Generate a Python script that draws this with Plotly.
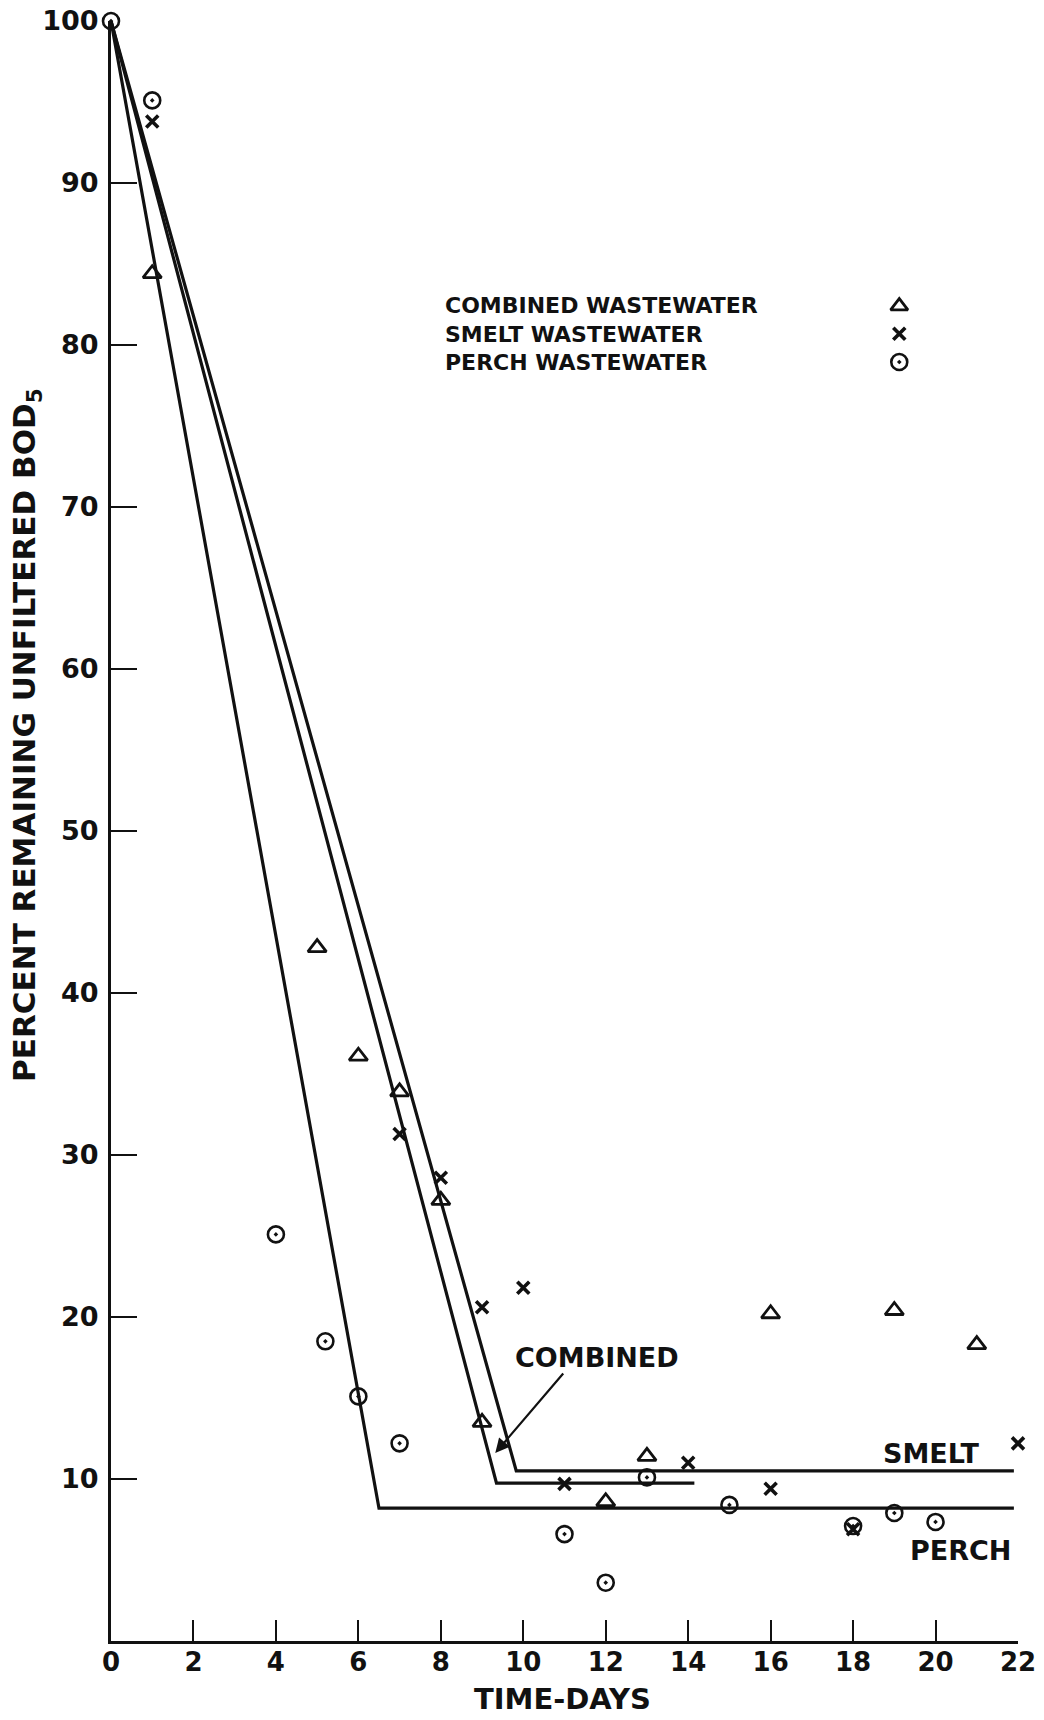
import plotly.graph_objects as go

# ---- data ----
combined_days = [1, 5, 6, 7, 8, 9, 12, 13, 16, 19, 21]
combined_pct = [84.4, 42.8, 36.1, 33.9, 27.2, 13.5, 8.6, 11.4, 20.2, 20.4, 18.3]

smelt_days = [1, 7, 8, 9, 10, 11, 14, 16, 18, 22]
smelt_pct = [93.8, 31.3, 28.6, 20.6, 21.8, 9.7, 11.0, 9.4, 6.9, 12.2]

perch_days = [0, 1, 4, 5.2, 6, 7, 11, 12, 13, 15, 18, 19, 20]
perch_pct = [100, 95.1, 25.1, 18.5, 15.1, 12.2, 6.6, 3.6, 10.1, 8.4, 7.1, 7.9, 7.35]

combined_fit_days = [0, 9.35, 14.15]
combined_fit_pct = [100, 9.75, 9.75]
smelt_fit_days = [0, 9.83, 21.9]
smelt_fit_pct = [100, 10.5, 10.5]
perch_fit_days = [0, 6.5, 21.9]
perch_fit_pct = [100, 8.2, 8.2]

x_ticks = list(range(0, 23, 2))
y_ticks = list(range(10, 101, 10))

legend_labels = ["COMBINED WASTEWATER", "SMELT WASTEWATER", "PERCH WASTEWATER"]
legend_symbols = ["triangle-up-open", "x-thin-open", "circle-open-dot"]
legend_text_x = 8.05
legend_sym_x = 19.12
legend_y = [82.4, 80.7, 78.95]

FONT = "DejaVu Sans"
BLACK = "#111111"

# the page's body margin is removed (post_script), so figure == window
W, H = 1044, 1720
# plot area in window pixels: x 111..1018, y 21..1641
ml, mt = 111, 21
mr = W - 1018
mb = H - 1641
pw, ph = W - ml - mr, H - mt - mb


def px_to_paper(xp, yp):
    """window pixel -> paper coordinates"""
    return (xp - ml) / pw, (H - mb - yp) / ph


fig = go.Figure()

# fitted lines
for xs, ys in [(combined_fit_days, combined_fit_pct),
               (smelt_fit_days, smelt_fit_pct),
               (perch_fit_days, perch_fit_pct)]:
    fig.add_trace(go.Scatter(x=xs, y=ys, mode="lines",
                             line=dict(color=BLACK, width=3.2),
                             showlegend=False, cliponaxis=False))

# data markers
fig.add_trace(go.Scatter(x=combined_days, y=combined_pct, mode="markers",
                         marker=dict(symbol="triangle-up-open", size=16,
                                     color=BLACK, line=dict(width=2.8, color=BLACK)),
                         showlegend=False, cliponaxis=False))
fig.add_trace(go.Scatter(x=smelt_days, y=smelt_pct, mode="markers",
                         marker=dict(symbol="x-thin-open", size=12,
                                     color=BLACK, line=dict(width=3.6, color=BLACK)),
                         showlegend=False, cliponaxis=False))
fig.add_trace(go.Scatter(x=perch_days, y=perch_pct, mode="markers",
                         marker=dict(symbol="circle-open-dot", size=16,
                                     color=BLACK, line=dict(width=2.6, color=BLACK)),
                         showlegend=False, cliponaxis=False))

# legend key symbols
sizes = [15, 12, 16]
widths = [2.8, 3.6, 2.6]
for sym, yy, s, w in zip(legend_symbols, legend_y, sizes, widths):
    fig.add_trace(go.Scatter(x=[legend_sym_x], y=[yy], mode="markers",
                             marker=dict(symbol=sym, size=s, color=BLACK,
                                         line=dict(width=w, color=BLACK)),
                             showlegend=False, cliponaxis=False))

annotations = [
    dict(x=legend_text_x, y=legend_y[1], xref="x", yref="y",
         text="<br>".join(legend_labels), align="left",
         showarrow=False, xanchor="left", yanchor="middle",
         font=dict(family=FONT, size=22, color=BLACK, weight="bold")),
]

ytx, yty = px_to_paper(26, 735)
xtx, xty = px_to_paper(562, 1699)
annotations += [
    dict(x=11.8, y=17.5, xref="x", yref="y", text="COMBINED", showarrow=False,
         font=dict(family=FONT, size=27, color=BLACK, weight="bold")),
    dict(x=9.32, y=11.6, xref="x", yref="y", ax=11.0, ay=16.6, axref="x", ayref="y",
         text="", showarrow=True, arrowhead=2, arrowsize=1.3, arrowwidth=2.2,
         arrowcolor=BLACK),
    dict(x=19.9, y=11.6, xref="x", yref="y", text="SMELT", showarrow=False,
         font=dict(family=FONT, size=27, color=BLACK, weight="bold")),
    dict(x=20.6, y=5.6, xref="x", yref="y", text="PERCH", showarrow=False,
         font=dict(family=FONT, size=27, color=BLACK, weight="bold")),
    dict(x=ytx, y=yty, xref="paper", yref="paper",
         text="PERCENT REMAINING UNFILTERED BOD<sub>5</sub>",
         showarrow=False, textangle=-90, xanchor="center", yanchor="middle",
         font=dict(family=FONT, size=31, color=BLACK, weight="bold")),
    dict(x=xtx, y=xty, xref="paper", yref="paper", text="TIME-DAYS",
         showarrow=False, xanchor="center", yanchor="middle",
         font=dict(family=FONT, size=29, color=BLACK, weight="bold")),
]

fig.update_layout(
    width=W, height=H,
    margin=dict(l=ml, r=mr, t=mt, b=mb, pad=0, autoexpand=False),
    paper_bgcolor="white", plot_bgcolor="white",
    annotations=annotations,
    showlegend=False,
    xaxis=dict(range=[0, 22], tickvals=x_ticks, ticks="inside", ticklen=21,
               tickwidth=2.2, tickcolor=BLACK, showline=True, linewidth=3,
               linecolor=BLACK, showgrid=False, zeroline=False, automargin=False,
               ticklabelstandoff=-4, ticklabeloverflow="allow",
               tickfont=dict(family=FONT, size=26, color=BLACK, weight="bold")),
    yaxis=dict(range=[0, 100], tickvals=y_ticks, ticks="inside", ticklen=26,
               tickwidth=2.2, tickcolor=BLACK, showline=True, linewidth=3,
               linecolor=BLACK, showgrid=False, zeroline=False, automargin=False,
               ticklabelstandoff=4, ticklabeloverflow="allow",
               tickfont=dict(family=FONT, size=27, color=BLACK, weight="bold")),
)

fig.write_html("out.html",
               config={"displayModeBar": False},
               post_script="document.body.style.margin='0';document.body.style.overflow='hidden';")
